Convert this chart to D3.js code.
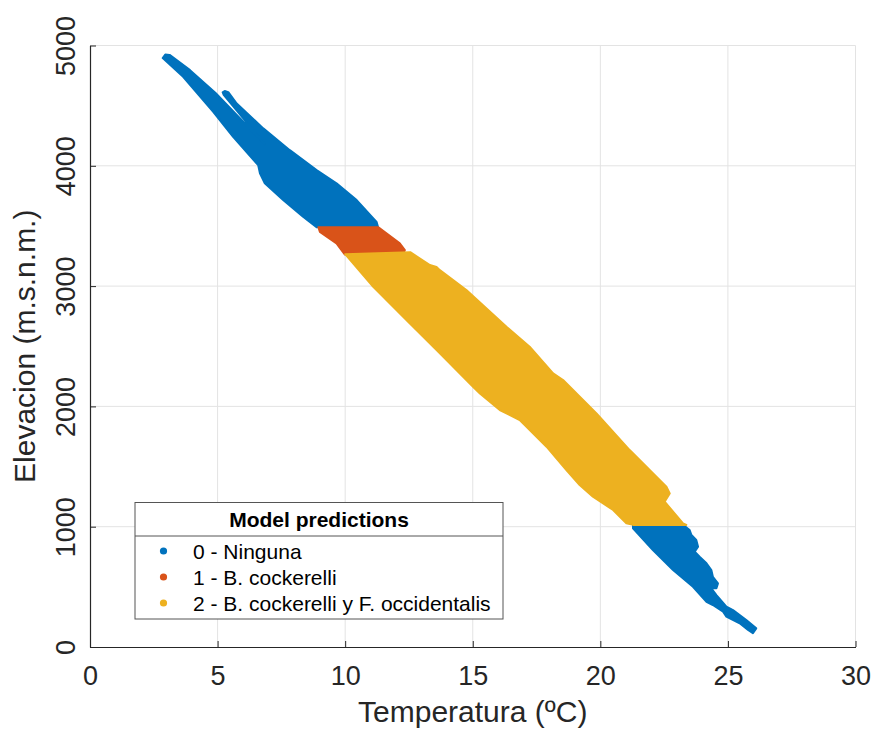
<!DOCTYPE html>
<html>
<head>
<meta charset="utf-8">
<script src="https://cdn.jsdelivr.net/npm/d3@7"></script>
<style>
  html, body { margin: 0; padding: 0; background: #ffffff; }
  svg { display: block; font-family: "Liberation Sans", Arial, Helvetica, sans-serif; }
</style>
</head>
<body>
<svg id="chart" width="874" height="731"></svg>
<script>
// Predicted classes over the (temperature, elevation) point cloud.
// Each region is the outline of the plotted points, as [temperature °C, elevation m].
const classNames = ["0 - Ninguna", "1 - B. cockerelli", "2 - B. cockerelli y F. occidentalis"];
const classColors = ["#0072BD", "#D95319", "#EDB120"];

// Class 0, high-elevation points (two arms that merge near 4200 m)
const ningunaHigh = [
  [2.85, 4895], [2.95, 4925], [3.12, 4922], [3.92, 4795], [4.92, 4605], [6.85, 4180],
  [5.24, 4590], [5.2, 4610], [5.28, 4622], [5.42, 4612], [5.75, 4518], [6.79, 4311], [7.83, 4130],
  [8.88, 3964], [9.66, 3854], [10.45, 3715], [11.23, 3534], [11.29, 3490], [8.88, 3490],
  [8.35, 3576], [7.57, 3715], [6.85, 3854], [6.66, 3937], [6.59, 4006], [5.61, 4241],
  [4.83, 4449], [3.65, 4740]
];
// Class 0, low-elevation points
const ningunaLow = [
  [21.28, 1015], [23.24, 1015], [23.50, 972], [23.57, 931], [23.76, 889], [23.83, 834],
  [23.70, 792], [23.89, 750], [24.16, 696], [24.35, 640], [24.41, 584], [24.61, 529],
  [24.55, 488], [24.35, 488], [24.55, 432], [24.94, 335], [25.20, 307], [25.72, 224],
  [26.11, 155], [25.98, 114], [25.79, 141], [25.46, 197], [24.94, 252], [24.81, 293],
  [24.41, 349], [24.16, 376], [23.63, 501], [22.85, 640], [22.06, 806], [21.28, 986]
];
// Class 1
const cockerelli = [
  [8.95, 3490], [11.29, 3490], [12.14, 3355], [12.34, 3299], [12.27, 3268],
  [9.99, 3262], [9.66, 3355], [9.01, 3451]
];
// Class 2
const cockerelliOcc = [
  [10.0, 3265], [12.55, 3282], [13.32, 3175], [13.58, 3160], [13.71, 3133], [14.75, 2967],
  [16.32, 2662], [17.23, 2496], [18.15, 2275], [18.54, 2219], [19.85, 1942], [21.15, 1637],
  [22.59, 1332], [22.72, 1277], [22.52, 1208], [23.24, 1028], [23.37, 1015], [21.28, 1015],
  [21.02, 1028], [20.50, 1139], [19.71, 1249], [19.19, 1346], [18.67, 1471], [17.89, 1665],
  [16.84, 1886], [16.32, 1942], [16.06, 1970], [15.28, 2108], [15.01, 2163], [13.71, 2441],
  [12.40, 2718], [11.10, 2994]
];

const regions = [
  { cls: 0, pts: ningunaHigh },
  { cls: 0, pts: ningunaLow },
  { cls: 1, pts: cockerelli },
  { cls: 2, pts: cockerelliOcc }
];

const xTicks = [0, 5, 10, 15, 20, 25, 30];
const yTicks = [0, 1000, 2000, 3000, 4000, 5000];

const svg = d3.select("#chart");
const plotLeft = 90, plotRight = 855.5, plotTop = 45.5, plotBottom = 647;

const x = d3.scaleLinear().domain([0, 30]).range([plotLeft, plotRight]);
const y = d3.scaleLinear().domain([0, 5000]).range([plotBottom, plotTop]);

const axisColor = "#262626";
const gridColor = "#e3e3e3";

// grid
const grid = svg.append("g");
grid.selectAll("line.gx").data(xTicks.slice(1)).join("line")
  .attr("x1", d => x(d)).attr("x2", d => x(d))
  .attr("y1", plotTop).attr("y2", plotBottom)
  .attr("stroke", gridColor).attr("stroke-width", 1);
grid.selectAll("line.gy").data(yTicks.slice(1)).join("line")
  .attr("x1", plotLeft).attr("x2", plotRight)
  .attr("y1", d => y(d)).attr("y2", d => y(d))
  .attr("stroke", gridColor).attr("stroke-width", 1);

// point cloud regions
const outline = d3.line().x(d => x(d[0])).y(d => y(d[1])).curve(d3.curveLinearClosed);
svg.append("g").selectAll("path").data(regions).join("path")
  .attr("d", d => outline(d.pts))
  .attr("fill", d => classColors[d.cls])
  .attr("stroke", d => classColors[d.cls])
  .attr("stroke-width", 2)
  .attr("stroke-linejoin", "round");

// axes (inward ticks, no box)
const xAxis = d3.axisBottom(x).tickValues(xTicks).tickFormat(d3.format("d"))
  .tickSizeInner(-6).tickSizeOuter(0).tickPadding(12);
const yAxis = d3.axisLeft(y).tickValues(yTicks).tickFormat(d3.format("d"))
  .tickSizeInner(-6).tickSizeOuter(0).tickPadding(12);

const gx = svg.append("g").attr("transform", `translate(0,${plotBottom})`).call(xAxis);
gx.select(".domain").attr("stroke", axisColor).attr("stroke-width", 1.2);
gx.selectAll(".tick line").attr("stroke", axisColor);
gx.selectAll(".tick text").attr("fill", axisColor).attr("font-size", 27)
  .attr("font-family", "Liberation Sans, Arial, sans-serif")
  .attr("dy", null).attr("y", 38);

const gy = svg.append("g").attr("transform", `translate(${plotLeft},0)`).call(yAxis);
gy.select(".domain").attr("stroke", axisColor).attr("stroke-width", 1.2);
gy.selectAll(".tick line").attr("stroke", axisColor);
gy.selectAll(".tick text").attr("fill", axisColor).attr("font-size", 27)
  .attr("font-family", "Liberation Sans, Arial, sans-serif")
  .attr("x", null).attr("dy", null)
  .attr("text-anchor", "middle")
  .attr("transform", "translate(-15,0) rotate(-90)");

// axis titles
svg.append("text")
  .attr("x", (plotLeft + plotRight) / 2).attr("y", 722)
  .attr("text-anchor", "middle").attr("font-size", 30).attr("fill", axisColor)
  .text("Temperatura (ºC)");
svg.append("text")
  .attr("transform", `translate(35,${(plotTop + plotBottom) / 2}) rotate(-90)`)
  .attr("text-anchor", "middle").attr("font-size", 30).attr("fill", axisColor)
  .text("Elevacion (m.s.n.m.)");

// legend
const lg = svg.append("g");
const lgX = 135, lgY = 502.5, lgW = 368, lgH = 116.5;
lg.append("rect").attr("x", lgX).attr("y", lgY).attr("width", lgW).attr("height", lgH)
  .attr("fill", "#ffffff").attr("stroke", "#555555").attr("stroke-width", 1);
lg.append("line").attr("x1", lgX).attr("x2", lgX + lgW).attr("y1", 536).attr("y2", 536)
  .attr("stroke", "#555555").attr("stroke-width", 1);
lg.append("text").attr("x", lgX + lgW / 2).attr("y", 527)
  .attr("text-anchor", "middle").attr("font-size", 21).attr("font-weight", "bold")
  .attr("fill", "#000000").text("Model predictions");
const rows = lg.selectAll("g.row").data(classNames).join("g")
  .attr("transform", (d, i) => `translate(0,${559 + i * 26})`);
rows.append("circle").attr("cx", 163.5).attr("cy", -8).attr("r", 3.6)
  .attr("fill", (d, i) => classColors[i]);
rows.append("text").attr("x", 193).attr("y", 0)
  .attr("font-size", 21).attr("fill", "#000000").text(d => d);
</script>
</body>
</html>
